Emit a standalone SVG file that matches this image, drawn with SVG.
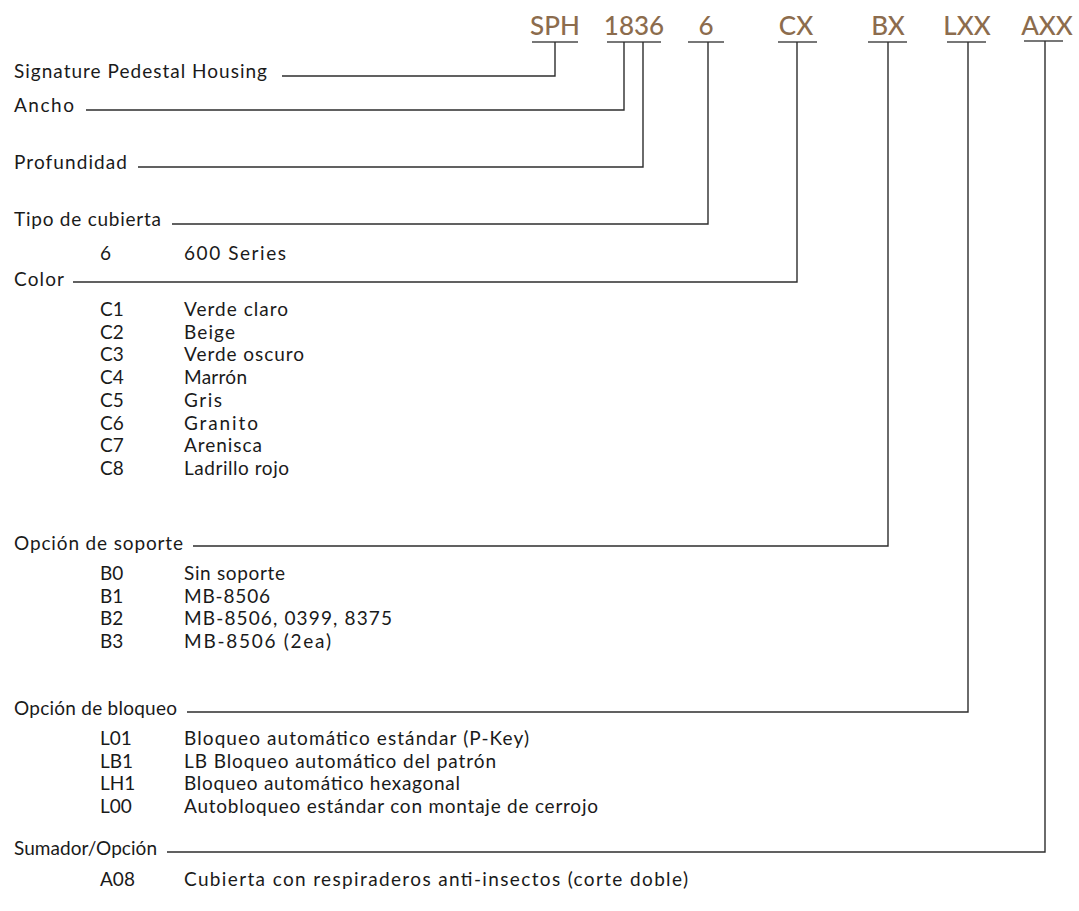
<svg xmlns="http://www.w3.org/2000/svg" width="1079" height="911" viewBox="0 0 1079 911">
<style>
.code{font-family:Lato,"Liberation Sans",sans-serif;font-size:26px;font-weight:500;fill:#8c6c4d;text-anchor:middle}
.lbl{font-family:Lato,"Liberation Sans",sans-serif;font-size:19px;fill:#1a1a1a}
.ln{stroke:#2e2e2e;stroke-width:1.4;fill:none}
.ul{stroke:#4a4a4a;stroke-width:1.6;fill:none}
</style>
<rect width="1079" height="911" fill="#ffffff"/>
<g id="codes">
<g id="code-SPH"><text class="code" x="555" y="35">SPH</text><line class="ul" x1="532" y1="42" x2="578" y2="42"/></g>
<g id="code-1836"><text class="code" x="634" y="35">1836</text><line class="ul" x1="607" y1="42" x2="661" y2="42"/></g>
<g id="code-6"><text class="code" x="706" y="35">6</text><line class="ul" x1="688" y1="42" x2="724" y2="42"/></g>
<g id="code-CX"><text class="code" x="796" y="35">CX</text><line class="ul" x1="778" y1="42" x2="817" y2="42"/></g>
<g id="code-BX"><text class="code" x="888" y="35">BX</text><line class="ul" x1="868" y1="42" x2="907" y2="42"/></g>
<g id="code-LXX"><text class="code" x="967" y="35">LXX</text><line class="ul" x1="947" y1="42" x2="986" y2="42"/></g>
<g id="code-AXX"><text class="code" x="1047" y="35">AXX</text><line class="ul" x1="1024" y1="41" x2="1063" y2="41"/></g>
</g>
<g id="connectors">
<polyline class="ln" points="282,76 555,76 555,42"/>
<polyline class="ln" points="86,110 624,110 624,42"/>
<polyline class="ln" points="138,167 643,167 643,42"/>
<polyline class="ln" points="172,224 708,224 708,42"/>
<polyline class="ln" points="73,282 797,282 797,42"/>
<polyline class="ln" points="193,546 888,546 888,42"/>
<polyline class="ln" points="187,712 968,712 968,42"/>
<polyline class="ln" points="167,852 1045,852 1045,41"/>
</g>
<g id="node-housing"><text class="lbl" x="14" y="78" textLength="253" lengthAdjust="spacing">Signature Pedestal Housing</text></g>
<g id="node-ancho"><text class="lbl" x="14" y="112" textLength="60" lengthAdjust="spacing">Ancho</text></g>
<g id="node-profundidad"><text class="lbl" x="14" y="169" textLength="113" lengthAdjust="spacing">Profundidad</text></g>
<g id="node-tipo">
<text class="lbl" x="14" y="226" textLength="147" lengthAdjust="spacing">Tipo de cubierta</text>
<text class="lbl" x="100" y="260">6</text><text class="lbl" x="184" y="260" textLength="102" lengthAdjust="spacing">600 Series</text>
</g>
<g id="node-color">
<text class="lbl" x="14" y="286" textLength="50" lengthAdjust="spacing">Color</text>
<text class="lbl" x="100" y="316">C1</text><text class="lbl" x="184" y="316" textLength="104" lengthAdjust="spacing">Verde claro</text>
<text class="lbl" x="100" y="338.7">C2</text><text class="lbl" x="184" y="338.7" textLength="51" lengthAdjust="spacing">Beige</text>
<text class="lbl" x="100" y="361.4">C3</text><text class="lbl" x="184" y="361.4" textLength="120" lengthAdjust="spacing">Verde oscuro</text>
<text class="lbl" x="100" y="384.1">C4</text><text class="lbl" x="184" y="384.1" textLength="63" lengthAdjust="spacing">Marrón</text>
<text class="lbl" x="100" y="406.8">C5</text><text class="lbl" x="184" y="406.8" textLength="38" lengthAdjust="spacing">Gris</text>
<text class="lbl" x="100" y="429.5">C6</text><text class="lbl" x="184" y="429.5" textLength="74" lengthAdjust="spacing">Granito</text>
<text class="lbl" x="100" y="452.2">C7</text><text class="lbl" x="184" y="452.2" textLength="78" lengthAdjust="spacing">Arenisca</text>
<text class="lbl" x="100" y="474.9">C8</text><text class="lbl" x="184" y="474.9" textLength="105" lengthAdjust="spacing">Ladrillo rojo</text>
</g>
<g id="node-soporte">
<text class="lbl" x="14" y="550" textLength="169" lengthAdjust="spacing">Opción de soporte</text>
<text class="lbl" x="100" y="580">B0</text><text class="lbl" x="184" y="580" textLength="101" lengthAdjust="spacing">Sin soporte</text>
<text class="lbl" x="100" y="602.7">B1</text><text class="lbl" x="184" y="602.7" textLength="86" lengthAdjust="spacing">MB-8506</text>
<text class="lbl" x="100" y="625.4">B2</text><text class="lbl" x="184" y="625.4" textLength="208" lengthAdjust="spacing">MB-8506, 0399, 8375</text>
<text class="lbl" x="100" y="648.1">B3</text><text class="lbl" x="184" y="648.1" textLength="147" lengthAdjust="spacing">MB-8506 (2ea)</text>
</g>
<g id="node-bloqueo">
<text class="lbl" x="14" y="715" textLength="163" lengthAdjust="spacing">Opción de bloqueo</text>
<text class="lbl" x="100" y="745">L01</text><text class="lbl" x="184" y="745" textLength="345" lengthAdjust="spacing">Bloqueo automático estándar (P-Key)</text>
<text class="lbl" x="100" y="767.7">LB1</text><text class="lbl" x="184" y="767.7" textLength="312" lengthAdjust="spacing">LB Bloqueo automático del patrón</text>
<text class="lbl" x="100" y="790.4">LH1</text><text class="lbl" x="184" y="790.4" textLength="276" lengthAdjust="spacing">Bloqueo automático hexagonal</text>
<text class="lbl" x="100" y="813.1">L00</text><text class="lbl" x="184" y="813.1" textLength="414" lengthAdjust="spacing">Autobloqueo estándar con montaje de cerrojo</text>
</g>
<g id="node-sumador">
<text class="lbl" x="14" y="855" textLength="143" lengthAdjust="spacing">Sumador/Opción</text>
<text class="lbl" x="100" y="886">A08</text><text class="lbl" x="184" y="886" textLength="504" lengthAdjust="spacing">Cubierta con respiraderos anti-insectos (corte doble)</text>
</g>
</svg>
